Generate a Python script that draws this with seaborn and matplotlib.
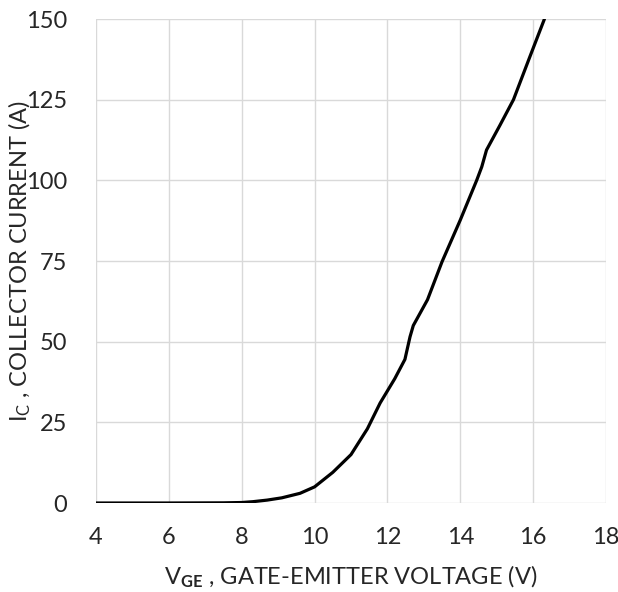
import matplotlib
matplotlib.use("Agg")
import matplotlib.pyplot as plt
import seaborn as sns
import pandas as pd

# Data
vge = [4.0, 6.0, 7.5, 8.0, 8.3, 8.7, 9.1, 9.6, 10.0, 10.5, 11.0, 11.45, 11.8,
       12.2, 12.48, 12.58, 12.62, 12.71, 13.1, 13.5, 14.0, 14.45, 14.59, 14.72,
       15.09, 15.46, 15.91, 16.31]
ic = [0.0, 0.0, 0.05, 0.15, 0.4, 0.9, 1.6, 3.0, 5.0, 9.5, 15.0, 23.0, 31.0,
      38.5, 44.5, 49.5, 51.5, 55.0, 63.0, 74.8, 87.7, 100.0, 104.2, 109.4,
      117.1, 125.0, 138.3, 150.0]
x_ticks = [4, 6, 8, 10, 12, 14, 16, 18]
y_ticks = [0, 25, 50, 75, 100, 125, 150]

df = pd.DataFrame({"vge": vge, "ic": ic})

sns.set_style("white")
plt.rcParams["font.family"] = ["Lato", "DejaVu Sans"]
plt.rcParams["mathtext.fontset"] = "custom"
plt.rcParams["mathtext.rm"] = "Lato"
plt.rcParams["mathtext.it"] = "Lato"
plt.rcParams["mathtext.bf"] = "Lato:bold"

fig = plt.figure(figsize=(6.18, 5.92), dpi=100)
ax = fig.add_axes([96 / 618, 89 / 592, 510 / 618, 484 / 592])

sns.lineplot(data=df, x="vge", y="ic", ax=ax, color="black", linewidth=2.3,
             estimator=None, sort=False)
for ln in ax.get_lines():
    ln.set_solid_joinstyle("round")
    ln.set_solid_capstyle("round")

ax.set_xlim(4, 18)
ax.set_ylim(0, 150)
ax.set_xticks(x_ticks)
ax.set_yticks(y_ticks)
ax.grid(True, color="#d9d9d9", linewidth=1.0)
ax.set_axisbelow(True)
for s in ax.spines.values():
    s.set_visible(False)
ax.tick_params(axis="both", length=0, labelsize=17, colors="#262626")
ax.tick_params(axis="x", pad=17)
ax.tick_params(axis="y", pad=21)

ax.set_xlabel(r"V$_{\mathbf{GE}}$ , GATE-EMITTER VOLTAGE (V)", fontsize=17, color="#262626")
ax.set_ylabel(r"I$_{\mathrm{C}}$ , COLLECTOR CURRENT (A)", fontsize=17, color="#262626")
ax.xaxis.set_label_coords(0.5, -0.125)
ax.yaxis.set_label_coords(-0.123, 0.5)

fig.savefig("out.png", dpi=100)
